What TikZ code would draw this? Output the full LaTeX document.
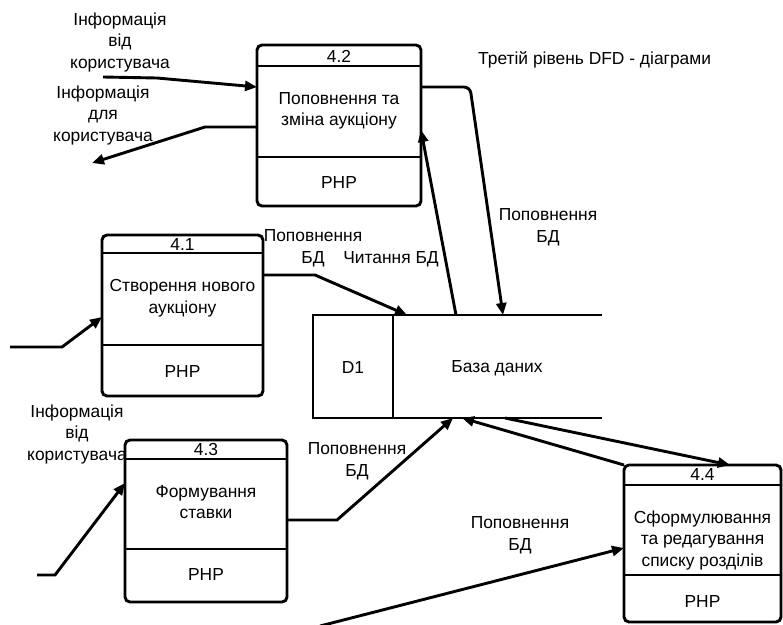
\documentclass[tikz,border=0pt]{standalone}
\usepackage{fontspec}
\setmainfont{Liberation Sans}
\usetikzlibrary{arrows.meta,calc}
\begin{document}
\begin{tikzpicture}[x=1pt,y=-1pt,
  lw/.style={line width=2.9pt},
  procbox/.style={lw,draw,rounded corners=5pt,outer sep=0pt,inner sep=0pt},
  store/.style={outer sep=0pt,inner sep=0pt,minimum height=103pt},
  txt/.style={align=center,inner sep=0pt,font=\fontsize{17.4}{21.5}\selectfont},
  flow/.style={lw,-{Triangle[length=12pt,width=10pt]}},
  plain/.style={lw}]
\useasboundingbox (0,0) rectangle (783,624);

% process 4.2
\node[procbox,minimum width=164pt,minimum height=161pt] (p42) at (339,125.5) {};
\draw[plain] ($(p42.north west)+(0,21)$) -- ($(p42.north east)+(0,21)$);
\draw[plain] ($(p42.north west)+(0,112)$) -- ($(p42.north east)+(0,112)$);
\node[txt] (n42) at (339,56) {4.2};
\node[txt] (t42) at (339,111) {Поповнення та\\зміна аукціону};
\node[txt] (h42) at (339,183) {PHP};

% process 4.1
\node[procbox,minimum width=161pt,minimum height=161pt] (p41) at (182.5,315.5) {};
\draw[plain] ($(p41.north west)+(0,18)$) -- ($(p41.north east)+(0,18)$);
\draw[plain] ($(p41.north west)+(0,110)$) -- ($(p41.north east)+(0,110)$);
\node[txt] (n41) at (182.5,245) {4.1};
\node[txt] (t41) at (182.5,298) {Створення нового\\аукціону};
\node[txt] (h41) at (182.5,372) {PHP};

% process 4.3
\node[procbox,minimum width=162pt,minimum height=162pt] (p43) at (206,521) {};
\draw[plain] ($(p43.north west)+(0,19)$) -- ($(p43.north east)+(0,19)$);
\draw[plain] ($(p43.north west)+(0,109)$) -- ($(p43.north east)+(0,109)$);
\node[txt] (n43) at (206,450) {4.3};
\node[txt] (t43) at (206,502) {Формування\\ставки};
\node[txt] (h43) at (206,575) {PHP};

% process 4.4
\node[procbox,minimum width=157pt,minimum height=157pt] (p44) at (702.5,543.5) {};
\draw[plain] ($(p44.north west)+(0,20)$) -- ($(p44.north east)+(0,20)$);
\draw[plain] ($(p44.north west)+(0,110)$) -- ($(p44.north east)+(0,110)$);
\node[txt] (n44) at (702.5,475) {4.4};
\node[txt] (t44) at (702.5,540) {Сформулювання\\та редагування\\списку розділів};
\node[txt] (h44) at (702.5,602) {PHP};

% data store
\node[store,minimum width=80pt] (d1) at (353,366.5) {};
\node[store,minimum width=209pt] (db) at (497.5,366.5) {};
\draw[plain] (d1.north east) -- (d1.north west) -- (d1.south west) -- (d1.south east) -- cycle;
\draw[plain] (d1.north east) -- (db.north east);
\draw[plain] (d1.south east) -- (db.south east);
\node[txt] (td1) at (353,368) {D1};
\node[txt] (tdb) at (497,368) {База даних};

% free ends
\coordinate (in42) at (103,77);
\coordinate (out42) at (92,163);
\coordinate (in41) at (10,347);
\coordinate (in43) at (37,575);
\coordinate (in44) at (320,626);

% connectors
\draw[flow] (in42) -- (157,78) -- ($(p42.north west)+(0,42)$);
\draw[flow] ($(p42.north west)+(0,82)$) -- (205,127) -- (out42);
\draw[flow,rounded corners=6pt] ($(p42.north east)+(0,42)$) -- (470,87) -- ($(db.north west)+(110,0)$);
\draw[flow] ($(db.north west)+(63,0)$) -- ($(p42.north east)+(0,85)$);
\draw[flow] (in41) -- (62,347) -- ($(p41.north west)+(0,82)$);
\draw[flow] ($(p41.north east)+(0,40)$) -- (315,275) -- ($(db.north west)+(14,0)$);
\draw[flow] (in43) -- (55,575) -- ($(p43.north west)+(0,43)$);
\draw[flow] ($(p43.north east)+(0,80)$) -- (337,520) -- ($(db.south west)+(60,0)$);
\draw[flow] (p44.north west) -- ($(db.south west)+(69,0)$);
\draw[flow] ($(db.south west)+(112,0)$) -- ($(p44.north west)+(106,0)$);
\draw[flow] (in44) -- ($(p44.north west)+(0,83)$);

% labels
\node[txt] (l1) at (120,42) {Інформація\\від\\користувача};
\node[txt] (l2) at (103,115) {Інформація\\для\\користувача};
\node[txt,anchor=west] (title) at (478,60) {Третій рівень DFD - діаграми};
\node[txt] (l3) at (548,227) {Поповнення\\БД};
\node[txt] (l4) at (313,248) {Поповнення\\БД};
\node[txt] (l5) at (391,259) {Читання БД};
\node[txt] (l6) at (77,434) {Інформація\\від\\користувача};
\node[txt] (l7) at (357,461) {Поповнення\\БД};
\node[txt] (l8) at (520,535) {Поповнення\\БД};
\end{tikzpicture}
\end{document}
